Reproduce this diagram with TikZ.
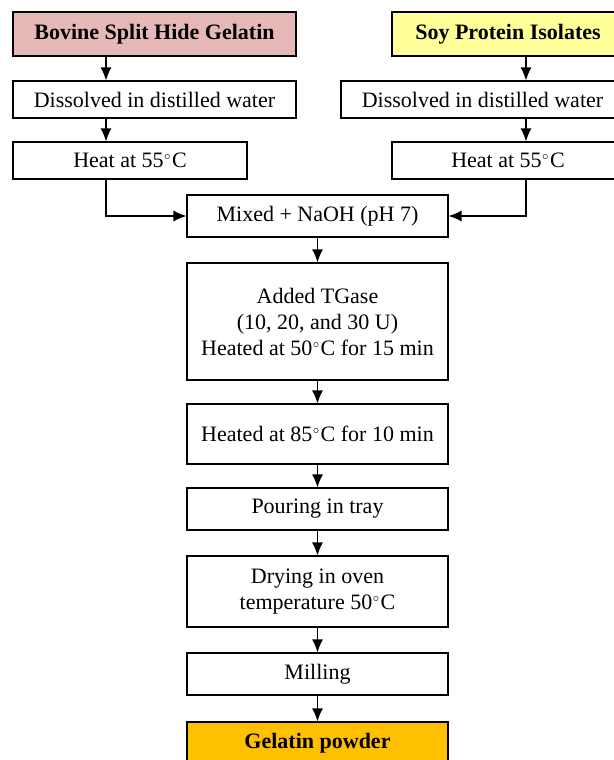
\documentclass[tikz,border=0pt]{standalone}
\usepackage{fontspec}
\setmainfont{Liberation Serif}
\usepackage{xcolor}
\usepackage{tikz}
\usetikzlibrary{arrows.meta}

\definecolor{hidepink}{HTML}{E6B8B7}
\definecolor{soyyellow}{HTML}{FFFF99}
\definecolor{powderorange}{HTML}{FFC000}
\newcommand{\degC}{$^{\scriptscriptstyle\circ}$C}

\begin{document}
\begin{tikzpicture}[>={Latex[length=6.5pt, width=5.5pt]}, x=0.5pt, y=-0.5pt, line width=0.6pt,
    box/.style={draw, inner sep=2pt, align=center, font=\fontsize{11}{13}\selectfont},
    titlebox/.style={box, font=\fontsize{11}{13}\selectfont\bfseries}]
    \clip (0,0) rectangle (614,760);

    % Hai nguyen lieu ban dau
    \node[titlebox, fill=hidepink, minimum width=141.5pt, minimum height=22pt] (bsh) at (154.5,34) {Bovine Split Hide Gelatin};
    \node[box, minimum width=141.5pt, minimum height=18.5pt] (ldis) at (154.5,99.5) {Dissolved in distilled water};
    \node[box, minimum width=117pt, minimum height=18.5pt] (lheat) at (130,160.5) {Heat at 55\degC};

    \node[titlebox, fill=soyyellow, minimum width=116pt, minimum height=22pt] (spi) at (508,34) {Soy Protein Isolates};
    \node[box, minimum width=141.5pt, minimum height=18.5pt] (rdis) at (482.5,99.5) {Dissolved in distilled water};
    \node[box, minimum width=116pt, minimum height=18.5pt] (rheat) at (508,160.5) {Heat at 55\degC};

    % Cot giua
    \node[box, minimum width=130.5pt, minimum height=21pt] (mix) at (317.5,216) {Mixed + NaOH (pH 7)};
    \node[box, minimum width=130.5pt, minimum height=58.5pt] (tg) at (317.5,321.5) {Added TGase\\(10, 20, and 30 U)\\Heated at 50\degC{} for 15 min};
    \node[box, minimum width=130.5pt, minimum height=30pt] (h85) at (317.5,434) {Heated at 85\degC{} for 10 min};
    \node[box, minimum width=130.5pt, minimum height=21pt] (pour) at (317.5,509) {Pouring in tray};
    \node[box, minimum width=130.5pt, minimum height=35.5pt] (dry) at (317.5,591.5) {Drying in oven\\temperature 50\degC};
    \node[box, minimum width=130.5pt, minimum height=21pt] (mill) at (317.5,674) {Milling};
    \node[titlebox, fill=powderorange, minimum width=130.5pt, minimum height=21pt] (gel) at (317.5,743) {Gelatin powder};

    % Mui ten
    \coordinate (lx) at (106,0);
    \coordinate (rx) at (526,0);
    \draw[->] (bsh.south -| lx) -- (ldis.north -| lx);
    \draw[->] (ldis.south -| lx) -- (lheat.north -| lx);
    \draw[->] (lheat.south -| lx) |- (mix.west);
    \draw[->] (spi.south -| rx) -- (rdis.north -| rx);
    \draw[->] (rdis.south -| rx) -- (rheat.north -| rx);
    \draw[->] (rheat.south -| rx) |- (mix.east);

    \draw[->] (mix) -- (tg);
    \draw[->] (tg) -- (h85);
    \draw[->] (h85) -- (pour);
    \draw[->] (pour) -- (dry);
    \draw[->] (dry) -- (mill);
    \draw[->] (mill) -- (gel);

\end{tikzpicture}
\end{document}
